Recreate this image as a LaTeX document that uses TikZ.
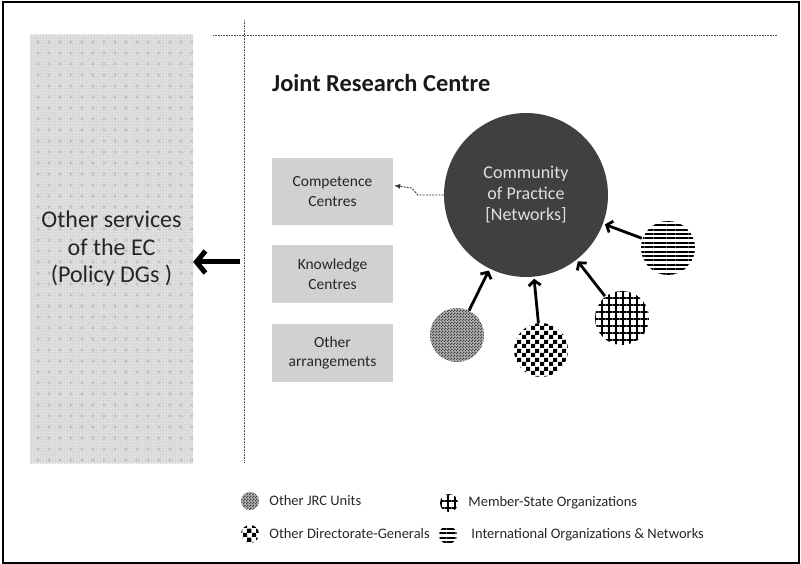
\documentclass[tikz,border=0pt]{standalone}
\usepackage{fontspec}
\setmainfont{Carlito}
\usetikzlibrary{arrows.meta,positioning,calc,patterns,patterns.meta}

\pgfdeclarepatternformonly{coarse checker}{\pgfqpoint{0pt}{0pt}}{\pgfqpoint{9pt}{9pt}}{\pgfqpoint{9pt}{9pt}}{%
  \pgfpathrectangle{\pgfqpoint{0pt}{0pt}}{\pgfqpoint{4.5pt}{4.5pt}}%
  \pgfpathrectangle{\pgfqpoint{4.5pt}{4.5pt}}{\pgfqpoint{4.5pt}{4.5pt}}%
  \pgfusepath{fill}}
\pgfdeclarepatternformonly{fine checker}{\pgfqpoint{0pt}{0pt}}{\pgfqpoint{3pt}{3pt}}{\pgfqpoint{3pt}{3pt}}{%
  \pgfpathrectangle{\pgfqpoint{0pt}{0pt}}{\pgfqpoint{1.5pt}{1.5pt}}%
  \pgfpathrectangle{\pgfqpoint{1.5pt}{1.5pt}}{\pgfqpoint{1.5pt}{1.5pt}}%
  \pgfusepath{fill}}
\pgfdeclarepatternformonly{ec dots}{\pgfqpoint{0pt}{0pt}}{\pgfqpoint{11pt}{11pt}}{\pgfqpoint{11pt}{11pt}}{%
  \pgfpathrectangle{\pgfqpoint{4pt}{4pt}}{\pgfqpoint{3pt}{3pt}}%
  \pgfusepath{fill}}

\begin{document}
\begin{tikzpicture}[x=1pt, y=-1pt,
    centre/.style={rectangle, fill=black!18, minimum width=121pt, inner sep=2pt,
      text=black!85, align=center, font=\fontsize{15.5}{19.5}\selectfont},
    partner/.style={circle, minimum size=54pt, inner sep=0pt},
    key/.style={circle, minimum size=18pt, inner sep=0pt},
    keytext/.style={right=10pt of #1, inner sep=0pt, text=black!85,
      font=\fontsize{14.5}{17}\selectfont},
    ecfill/.style={preaction={fill=black!11},
      preaction={pattern=fine checker, pattern color=black!19},
      pattern=ec dots, pattern color=black!24},
    jrcfill/.style={preaction={fill=black!30}, pattern=fine checker, pattern color=black!75},
    dgfill/.style={pattern=coarse checker, pattern color=black},
    msfill/.style={pattern={Hatch[angle=0, distance=7pt, line width=1.5pt]}, pattern color=black},
    intfill/.style={pattern={Lines[angle=0, distance=4.4pt, line width=2pt]}, pattern color=black},
    feed/.style={line width=2.8pt, -{Straight Barb[length=5pt, width=12pt]}, shorten >=2pt},
    link/.style={line width=0.9pt, black!80, dash pattern=on 2pt off 1.2pt,
      -{Latex[length=6pt, width=5pt]}}]
  \useasboundingbox (0,0) rectangle (801,564);
  \draw[line width=2pt] (3,2) rectangle (799,563);

  \node[ecfill, minimum width=163pt, minimum height=428pt, text=black!85, align=center,
    font=\fontsize{24}{27.5}\selectfont] (ec) at (111.5,249)
    {Other services\\of the EC\\(Policy DGs )};

  \draw[black!70, line width=0.8pt, dash pattern=on 0.8pt off 0.8pt]
    (244,20) -- (244,463) (213,35) -- (777,35);

  \node[anchor=west, inner sep=0pt, text=black!90,
    font=\bfseries\fontsize{24.4}{29}\selectfont] (jrc) at (272,83) {Joint Research Centre};

  \node[centre, minimum height=67pt] (comp) at (332.5,191.5) {Competence\\Centres};
  \node[centre, minimum height=58pt, below=20pt of comp] (know) {Knowledge\\Centres};
  \node[centre, minimum height=58pt, below=20pt of know] (other) {Other\\arrangements};

  \node[circle, fill=black!75, minimum size=164pt, inner sep=0pt, text=black!12,
    align=center, font=\fontsize{18}{21}\selectfont] (cop) at (526,195)
    {Community\\of Practice\\{[Networks]}};

  \node[partner, jrcfill] (jrcu) at (457,335) {};
  \node[partner, dgfill] (dgs) at (541,350) {};
  \node[partner, msfill] (msorg) at (622,318) {};
  \node[partner, intfill] (intl) at (668,248) {};

  \path[feed]
    (jrcu) edge (cop)
    (dgs) edge (cop)
    (msorg) edge (cop)
    (intl) edge (cop);

  \draw[link] (cop.west) -- ++(-26,0) -- ++(-6,-7) -- ($(comp.east)+(1,-6)$);

  \coordinate (jrcout) at (240,262);
  \draw[line width=5pt, -{Straight Barb[length=9pt, width=22pt]}] (jrcout) -- (ec.east |- jrcout);

  \node[key, jrcfill] (keyjrc) at (250,501) {};
  \node[keytext=keyjrc] (keyjrctext) {Other JRC Units};
  \node[key, dgfill] (keydg) at (250,534) {};
  \node[keytext=keydg] (keydgtext) {Other Directorate-Generals};
  \node[key, msfill] (keyms) at (449,503) {};
  \node[keytext=keyms] (keymstext) {Member-State Organizations};
  \node[key, intfill] (keyint) at (448,535) {};
  \node[keytext=keyint, xshift=4pt] (keyinttext) {International Organizations \& Networks};
\end{tikzpicture}
\end{document}
